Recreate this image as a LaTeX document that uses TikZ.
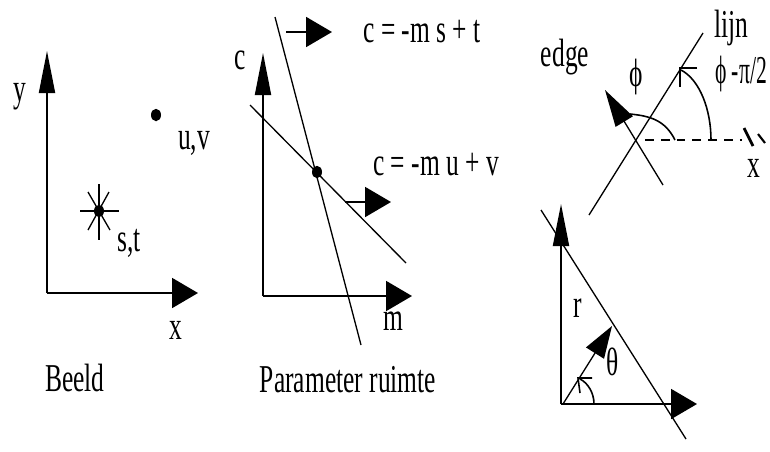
\documentclass[tikz,border=0pt]{standalone}
\usepackage{fontspec}
\setmainfont{Liberation Serif}
\usetikzlibrary{arrows.meta}
\tikzset{
  axis/.style={draw=black,line width=1.1pt},
  upaxis/.style={axis,-{Triangle[length=0.84cm,width=0.32cm]}},
  rightaxis/.style={axis,-{Triangle[length=0.52cm,width=0.6cm]}},
  lijnstyle/.style={draw=black,line width=0.75pt},
  normaal/.style={lijnstyle,-{Triangle[length=0.74cm,width=0.4cm]}},
  hoek/.style={lijnstyle,line width=0.9pt},
  stip/.style={circle,fill=black,draw=none,inner sep=0pt,minimum size=0.2cm,yscale=1.25,transform shape},
  lbl/.style={font=\fontsize{14.5}{16}\selectfont,inner sep=0pt,yscale=1.55,transform shape}
}
\begin{document}
\begin{tikzpicture}[x=0.02cm,y=-0.02cm]
  \useasboundingbox (0,0) rectangle (770,451);
  % beeld
  \coordinate (o1) at (47,293);
  \coordinate (y1) at (47,51);
  \coordinate (x1) at (198,293);
  \draw[upaxis] (o1)--(y1);
  \draw[rightaxis] (o1)--(x1);
  \node[stip] (uv) at (156,115) {};
  \foreach \hx/\hy/\kx/\ky in {80/211/119/211,99/184/99/240,88/192/110/230,109/192/88/230}{
    \draw[lijnstyle] (\hx,\hy)--(\kx,\ky);
  }
  \node[stip] (st) at (99,211) {};
  \node[lbl] (ylab) at (20,97) {y};
  \node[lbl] (xlab) at (176,330) {x};
  \node[lbl] (uvlab) at (194,143) {u,v};
  \node[lbl] (stlab) at (129,243) {s,t};
  \node[lbl] (beeld) at (75,378) {Beeld};
  % parameter ruimte
  \coordinate (o2) at (263,296);
  \coordinate (y2) at (263,53);
  \coordinate (x2) at (412,296);
  \coordinate (a1) at (275,17);
  \coordinate (a2) at (361,345);
  \coordinate (b1) at (250,105);
  \coordinate (b2) at (406,263);
  \coordinate (p1) at (286,32);
  \coordinate (p2) at (332,32);
  \coordinate (q1) at (345,202);
  \coordinate (q2) at (391,202);
  \draw[upaxis] (o2)--(y2);
  \draw[rightaxis] (o2)--(x2);
  \draw[lijnstyle] (a1)--(a2);
  \draw[lijnstyle] (b1)--(b2);
  \draw[rightaxis] (p1)--(p2);
  \draw[rightaxis] (q1)--(q2);
  \node[stip] (snij) at (317,172) {};
  \node[lbl] (clab) at (240,60) {c};
  \node[lbl] (mlab) at (393,321) {m};
  \node[lbl] (eq1) at (422,32) {c = -m s + t};
  \node[lbl] (eq2) at (436,165) {c = -m u + v};
  \node[lbl] (param) at (348,380) {Parameter ruimte};
  % edge
  \coordinate (l1) at (703,33);
  \coordinate (l2) at (589,215);
  \coordinate (e1) at (663,185);
  \coordinate (e2) at (605,90);
  \coordinate (d1) at (645,140);
  \coordinate (d2) at (742,140);
  \draw[lijnstyle] (l1)--(l2);
  \draw[normaal] (e1)--(e2);
  \draw[lijnstyle,dash pattern=on 5pt off 4pt] (d1)--(d2);
  \draw[line width=1.6pt] (744,128)--(753,146);
  \draw[line width=1.2pt] (758,134)--(765,143);
  \draw[hoek] (675,140) .. controls (665,120) and (650,116) .. (630,114);
  \draw[hoek] (711,140) .. controls (711,110) and (700,80) .. (681,70);
  \draw[hoek] (697,68)--(680,68)--(680,87);
  \node[lbl] (edge) at (565,57) {edge};
  \node[lbl] (lijn) at (731,28) {lijn};
  \node[lbl] (phi) at (636,77) {ϕ};
  \node[lbl,xscale=0.85] (phib) at (741,74) {ϕ -π/2};
  \node[lbl] (xedge) at (754,168) {x};
  % r en theta
  \coordinate (o3) at (561,404);
  \coordinate (y3) at (561,204);
  \coordinate (x3) at (697,404);
  \coordinate (n1) at (541,210);
  \coordinate (n2) at (686,439);
  \coordinate (r1) at (563,404);
  \coordinate (r2) at (612,326);
  \draw[upaxis] (o3)--(y3);
  \draw[rightaxis] (o3)--(x3);
  \draw[lijnstyle] (n1)--(n2);
  \draw[lijnstyle,-{Triangle[length=0.64cm,width=0.42cm]}] (r1)--(r2);
  \draw[hoek] (594,404) .. controls (594,393) and (588,383) .. (580,379);
  \draw[hoek] (592,378)--(578,378)--(580,393);
  \node[lbl] (rlab) at (578,308) {r};
  \node[lbl] (theta) at (613,362) {θ};
\end{tikzpicture}
\end{document}
